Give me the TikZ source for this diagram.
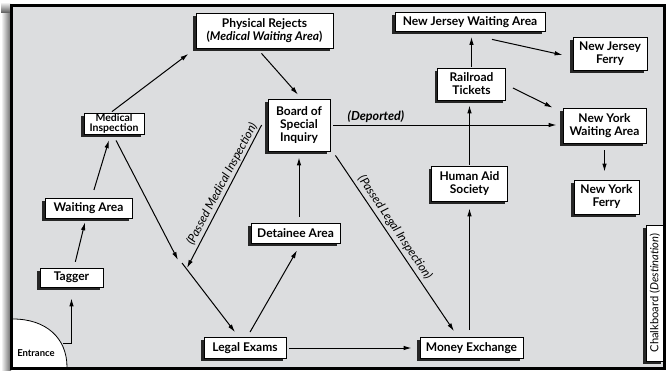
\documentclass[tikz,border=0pt]{standalone}
\usepackage{fontspec}
\setmainfont{Lato}
\usetikzlibrary{arrows.meta,shadows,calc}
\definecolor{panel}{RGB}{220,221,223}
\begin{document}
\begin{tikzpicture}[x=1pt,y=-1pt,
  box/.style={draw=black, line width=0.8pt, fill=white, inner sep=0pt, align=center,
    font=\bfseries\fontsize{12}{13}\selectfont,
    drop shadow={shadow xshift=-2.6pt, shadow yshift=-2.6pt, fill=black!85, opacity=1}},
  flow/.style={line width=1pt, -{Latex[length=8pt,width=4.5pt]}},
  lbl/.style={inner sep=0pt, font=\itshape\fontsize{12}{13}\selectfont}]

\useasboundingbox (0,0) rectangle (670,370);

% soft shadow along the left of the panel
\shade[left color=white, right color=black!60] (1,12) rectangle (11,370);
\shade[top color=white, bottom color=black!60] (1,2) rectangle (11,12);
\fill[panel] (11.5,5.5) rectangle (664.5,368.5);

% entrance doorway
\fill[white] (13,319) .. controls (46,319) and (67,338) .. (67,367) -- (13,367) -- cycle;
\draw[line width=0.8pt] (13,319) .. controls (46,319) and (67,338) .. (67,367);
\node[inner sep=0pt, font=\bfseries\fontsize{9.5}{10}\selectfont] (entr) at (36,353) {Entrance};
\coordinate (ein) at (63,343);

% chalkboard on the right wall
\fill[black!85] (643.4,227.6) rectangle (661,363.6);
\node[draw=black, line width=0.8pt, fill=white, rotate=90, inner sep=0pt,
  minimum width=136, minimum height=17.5, font=\fontsize{11.2}{12}\selectfont]
  (chalk) at (654.75,293) {Chalkboard (\textit{Destination})};

% stations
\node[box, minimum width=137, minimum height=35] (phys) at (264.5,30.5)
  {Physical Rejects\\(\textit{Medical Waiting Area})};
\node[box, minimum width=60, minimum height=21, font=\bfseries\fontsize{10.5}{10.3}\selectfont]
  (med) at (114,123.5) {Medical\\Inspection};
\node[box, minimum width=62, minimum height=52] (board) at (299,125)
  {Board of\\Special\\Inquiry};
\node[box, minimum width=87, minimum height=20] (wait) at (88.5,208) {Waiting Area};
\node[box, minimum width=63, minimum height=19] (tagger) at (71.5,277.5) {Tagger};
\node[box, minimum width=82, minimum height=21] (legal) at (245,348) {Legal Exams};
\node[box, minimum width=89, minimum height=20] (detain) at (295.5,233) {Detainee Area};
\node[box, minimum width=103, minimum height=21] (money) at (471.5,348) {Money Exchange};
\node[box, minimum width=76, minimum height=35] (human) at (469.5,183.5) {Human Aid\\Society};
\node[box, minimum width=68, minimum height=32] (rail) at (471.5,84) {Railroad\\Tickets};
\node[box, minimum width=150, minimum height=19] (njwait) at (470,22) {New Jersey Waiting Area};
\node[box, minimum width=74, minimum height=33] (njferry) at (610,53.5) {New Jersey\\Ferry};
\node[box, minimum width=83, minimum height=35] (nywait) at (604.5,125.5) {New York\\Waiting Area};
\node[box, minimum width=65, minimum height=34] (nyferry) at (606.5,197) {New York\\Ferry};

% meeting points below Medical Inspection
\coordinate (jm) at (178,260);
\coordinate (jb) at (187,268);
\coordinate (jl) at (182,263);

% connectors
\draw[flow, shorten >=11pt] (ein) -| (tagger.south);
\draw[flow, shorten <=6pt, shorten >=4pt] (tagger) -- (wait);
\draw[flow, shorten <=8pt, shorten >=6pt] (wait) -- (med);
\draw[flow, shorten >=9pt] ($(med.north)+(-2,-1)$) -- (phys.south west);
\draw[flow] ($(phys.south)+(-3,5)$) -- ($(board.north)+(-1,-4)$);
\draw[flow] ($(med.south)+(2,6)$) -- (jm);
\draw[flow] ($(board.west)+(-6,0)$) -- (jb);
\draw[flow] (jl) -- ($(legal.north)+(-10,-5)$);
\draw[flow] ($(legal.north)+(5,-5)$) -- ($(detain.south)+(1.5,7)$);
\draw[flow, shorten <=6pt, shorten >=6pt] (detain.north -| board.south) -- (board.south);
\draw[flow, shorten <=3pt, shorten >=6pt] (board.east) -- (board.east -| nywait.west);
\draw[flow] ($(board.south east)+(5,4)$) -- ($(money.north)+(-17.5,-6)$);
\draw[flow, shorten <=3pt, shorten >=8pt] (legal.east) -- (legal.east -| money.west);
\draw[flow, shorten <=7pt, shorten >=7pt] (human.south |- money.north) -- (human.south);
\draw[flow, shorten <=1pt, shorten >=5pt] (human.north) -- (human.north |- rail.south);
\draw[flow, shorten <=1pt, shorten >=5pt] (rail.north) -- (rail.north |- njwait.south);
\draw[flow] ($(njwait.south)+(22,7.5)$) -- ($(njferry.west)+(-10,1.5)$);
\draw[flow] ($(rail.east)+(7,4)$) -- ($(nywait.north west)+(-10,0)$);
\draw[flow, shorten <=7pt, shorten >=8pt] (nywait.south) -- (nywait.south |- nyferry.north);

% path labels
\node[lbl, rotate=62] (lmed) at (222,184) {(Passed Medical Inspection)};
\node[lbl, rotate=-56] (llegal) at (395,227.5) {(Passed Legal Inspection)};
\node[lbl, font=\bfseries\itshape\fontsize{12.5}{13}\selectfont] (ldep) at (376,117) {(Deported)};

% panel frame
\draw[line width=3pt] (11.5,5.5) rectangle (664.5,368.5);
\end{tikzpicture}
\end{document}
